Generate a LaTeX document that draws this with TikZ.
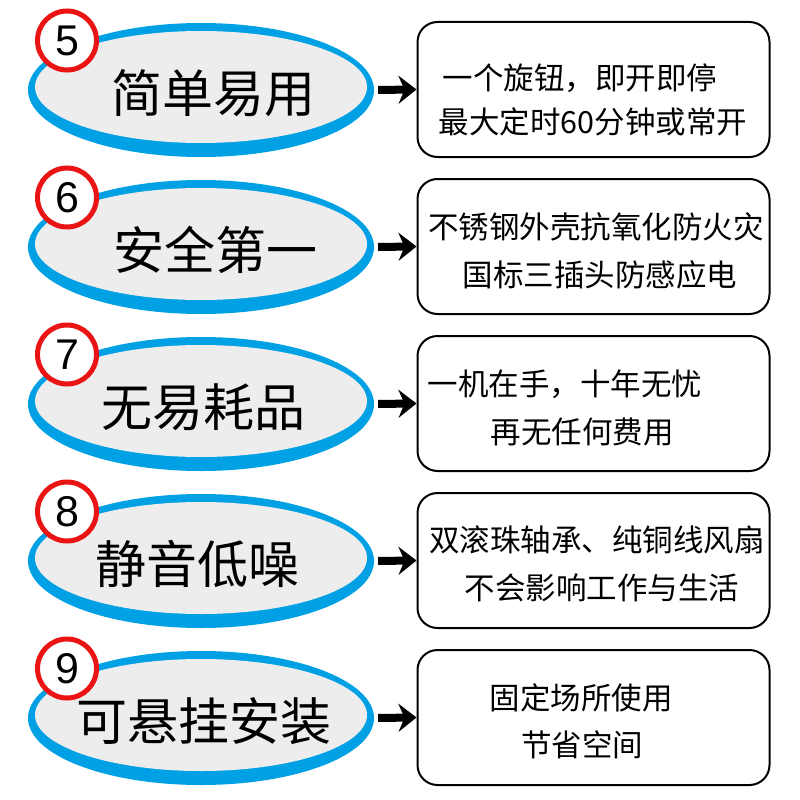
\documentclass[tikz,border=0pt]{standalone}
\usepackage{fontspec}
\newfontfamily\cjk{Noto Sans CJK SC}
\newfontfamily\digitfont{Liberation Sans}
\usetikzlibrary{shapes.geometric, arrows.meta}
\definecolor{ringblue}{RGB}{0,160,228}
\definecolor{pillgray}{RGB}{237,237,237}
\definecolor{badgered}{RGB}{235,20,20}

\begin{document}
\begin{tikzpicture}[x=1pt, y=-1pt,
    shadowpill/.style={ellipse, fill=ringblue, minimum width=346pt, minimum height=134pt, inner sep=0pt},
    pill/.style={ellipse, fill=pillgray, minimum width=332pt, minimum height=112pt, inner sep=0pt},
    badge/.style={circle, draw=badgered, line width=5pt, fill=white, minimum size=59pt, inner sep=0pt, font=\digitfont\fontsize{43}{43}\selectfont},
    headline/.style={font=\cjk\fontsize{51}{51}\selectfont, inner sep=0pt},
    note/.style={font=\cjk\fontsize{30.5}{30.5}\selectfont, inner sep=0pt},
    infobox/.style={draw, rounded corners=20pt, line width=2pt, minimum width=352pt, minimum height=135pt},
    link/.style={-{Stealth[length=18pt, width=28pt, inset=6pt]}, line width=8pt, shorten <=4pt}]
  \useasboundingbox (0,0) rectangle (800,800);

  \foreach \n/\ty/\tx/\head/\la/\xa/\ya/\lb/\xb/\yb in {
      5/22/213/简单易用/一个旋钮，即开即停/580/56/最大定时60分钟或常开/593/100,
      6/179/215/安全第一/不锈钢外壳抗氧化防火灾/596/48/国标三插头防感应电/600/96,
      7/336/203/无易耗品/一机在手，十年无忧/565/48/再无任何费用/582/96,
      8/493/197/静音低噪/双滚珠轴承、纯铜线风扇/597/47/不会影响工作与生活/602/95,
      9/650/204/可悬挂安装/固定场所使用/581/48/节省空间/582/95}{
    \node[shadowpill] (s\n) at (201,\ty+68) {};
    \node[pill] (e\n) at (201,\ty+65) {};
    \node[headline] (h\n) at (\tx,\ty+71) {\head};
    \node[badge] (c\n) at (67,\ty+18.5) {\n};

    \node[infobox] (b\n) at (593.5,\ty+67.5) {};
    \node[note] (la\n) at (\xa,\ty+\ya) {\la};
    \node[note] (lb\n) at (\xb,\ty+\yb) {\lb};

    \draw[link] (s\n.east) -- (b\n.west);
  }
\end{tikzpicture}
\end{document}
